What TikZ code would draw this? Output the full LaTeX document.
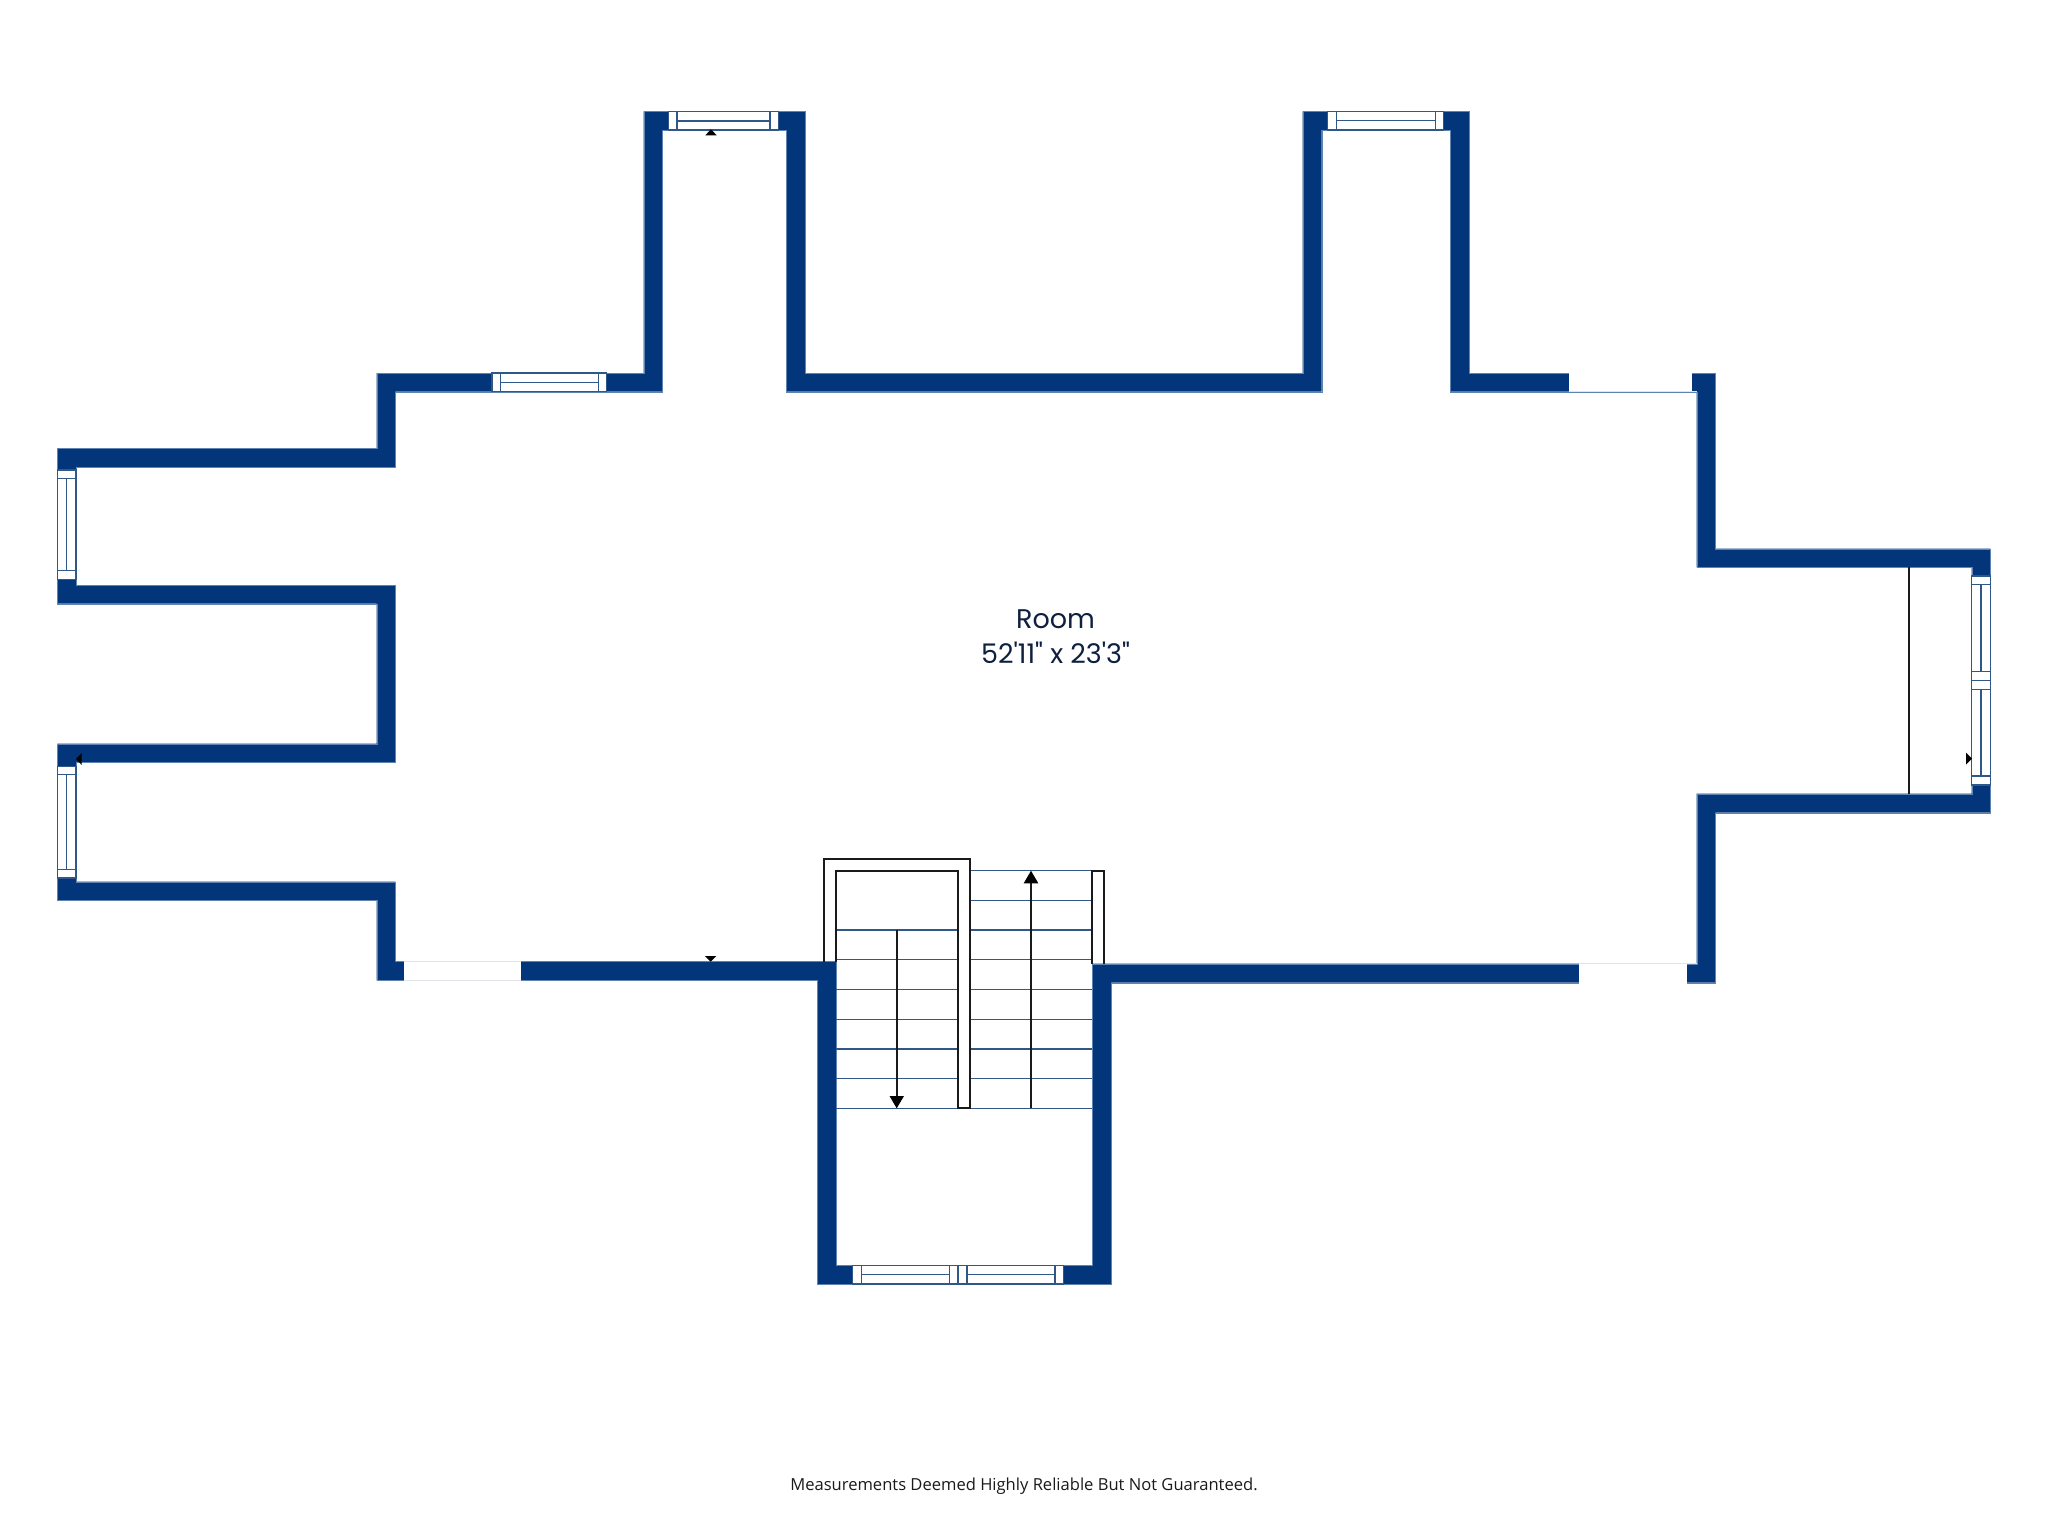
\documentclass[tikz,border=0pt]{standalone}
\usepackage{fontspec}
\setmainfont{Open Sans}
\newfontfamily\poppinsfont{Poppins}
\definecolor{wallblue}{HTML}{03357A}
\definecolor{wallrim}{HTML}{5F84B4}
\definecolor{winblue}{HTML}{2F5788}
\definecolor{railblack}{HTML}{1A1A1A}
\definecolor{gapgrey}{HTML}{E2E4EA}
\definecolor{roomink}{HTML}{0E2040}
\definecolor{footink}{HTML}{1A1A1A}
\tikzset{
  wallfill/.style={fill=wallblue,draw=wallrim,line width=0.4pt,even odd rule},
  winbox/.style={fill=white,draw=winblue,line width=1.4pt},
  winline/.style={draw=winblue,line width=1.4pt},
  tread/.style={draw=winblue,line width=1.2pt},
  rail/.style={draw=railblack,line width=1.7pt,line join=miter},
  gapbox/.style={fill=white,draw=none},
  gapline/.style={draw=gapgrey,line width=1.2pt},
  headfill/.style={fill=black,draw=none},
  roomlabel/.style={anchor=base,text=roomink,font=\poppinsfont\fontsize{27}{31}\selectfont,inner sep=0pt},
  footlabel/.style={anchor=base,text=footink,font=\fontsize{16.56}{20}\selectfont,inner sep=0pt}
}
\begin{document}
\begin{tikzpicture}[x=1pt,y=-1pt]
\useasboundingbox (0,0) rectangle (2048,1536);
\fill[white] (0,0) rectangle (2048,1536);
% walls: outer outline and inner outline
\path[wallfill]
 (376.7,373)--(643.7,373)--(643.7,111.3)--(805,111.3)--(805,373)--(1302.7,373)--(1302.7,111.3)--(1469.3,111.3)--(1469.3,373)--(1715.3,373)--(1715.3,548.7)--(1990.3,548.7)--(1990.3,812.7)--(1715.3,812.7)--(1715.3,982.7)--(1111,982.7)--(1111,1284)--(817,1284)--(817,980.3)--(376.7,980.3)--(376.7,900.3)--(57.3,900.3)--(57.3,743.7)--(376.7,743.7)--(376.7,603.7)--(57.3,603.7)--(57.3,448.3)--(376.7,448.3)--cycle
 (395.3,391.7)--(662.3,391.7)--(662.3,130)--(786.3,130)--(786.3,391.7)--(1321.7,391.7)--(1321.7,130)--(1450.3,130)--(1450.3,391.7)--(1696.7,391.7)--(1696.7,567.3)--(1971.7,567.3)--(1971.7,793.7)--(1696.7,793.7)--(1696.7,963.7)--(1092,963.7)--(1092,1265.3)--(836,1265.3)--(836,961.3)--(395.3,961.3)--(395.3,881.7)--(76,881.7)--(76,762.3)--(395.3,762.3)--(395.3,585)--(76,585)--(76,467)--(395.3,467)--cycle;
% openings
\fill[gapbox] (1568.7,372) rectangle (1691.7,391.7);
\draw[gapline] (1568.7,391.7)--(1696.7,391.7);
\fill[gapbox] (404.3,960.7) rectangle (520.7,981);
\draw[gapline] (404.3,961.3)--(520.7,961.3) (404.3,980.3)--(520.7,980.3);
\fill[gapbox] (1579,963.7) rectangle (1686.7,983.5);
\draw[gapline] (1579,963.7)--(1696.7,963.7);
% top-wall window
\draw[winbox] (492,373) rectangle (606.7,391.7);
\draw[winline] (500.7,373)--(500.7,391.7) (598.7,373)--(598.7,391.7) (500.7,382.3)--(598.7,382.3);
% bay windows, top
\draw[winbox] (668.3,111.3) rectangle (778.3,130);
\draw[winline] (677,111.3)--(677,130) (770,111.3)--(770,130) (677,121)--(770,121);
\draw[winbox] (1327.7,111.3) rectangle (1443.7,130);
\draw[winline] (1336.3,111.3)--(1336.3,130) (1435.3,111.3)--(1435.3,130) (1336.3,120.7)--(1435.3,120.7);
% left windows
\draw[winbox] (57.3,470) rectangle (76,579.3);
\draw[winline] (57.3,478.3)--(76,478.3) (57.3,570.7)--(76,570.7) (66.7,478.3)--(66.7,570.7);
\draw[winbox] (57.3,766.3) rectangle (76,878);
\draw[winline] (57.3,774.3)--(76,774.3) (57.3,869.7)--(76,869.7) (66.7,774.3)--(66.7,869.7);
% right window
\draw[winbox] (1971.7,576) rectangle (1990.3,785);
\draw[winline] (1971.7,584.3)--(1990.3,584.3) (1971.7,671.7)--(1990.3,671.7) (1971.7,680.3)--(1990.3,680.3) (1971.7,689.3)--(1990.3,689.3) (1971.7,776)--(1990.3,776) (1981,584.3)--(1981,671.7) (1981,689.3)--(1981,776);
% stair-well window
\draw[winbox] (852.7,1265.3) rectangle (1063.3,1284);
\draw[winline] (861.3,1265.3)--(861.3,1284) (949.3,1265.3)--(949.3,1284) (958,1265.3)--(958,1284) (967,1265.3)--(967,1284) (1055,1265.3)--(1055,1284) (861.3,1274.7)--(949.3,1274.7) (967,1274.7)--(1055,1274.7);
% right bay divider
\draw[rail] (1909.3,567.3)--(1909.3,793.7);
% treads
\draw[tread] (836,930)--(958,930) (836,959.7)--(958,959.7) (836,989.7)--(958,989.7) (836,1019.3)--(958,1019.3) (836,1049)--(958,1049) (836,1078.7)--(958,1078.7);
\draw[tread] (970,870.7)--(1092,870.7) (970,900.3)--(1092,900.3) (970,930)--(1092,930) (970,959.7)--(1092,959.7) (970,989.7)--(1092,989.7) (970,1019.3)--(1092,1019.3) (970,1049)--(1092,1049) (970,1078.7)--(1092,1078.7);
\draw[tread] (836,1108.3)--(1092,1108.3);
% rails
\draw[rail] (823.7,962)--(823.7,858.7)--(970,858.7)--(970,1108.3)--(958,1108.3)--(958,870.7)--(835.7,870.7)--(835.7,962);
\draw[rail] (1092.3,963.7)--(1092.3,870.7)--(1104.3,870.7)--(1104.3,963.7);
% stair arrows
\draw[rail] (896.7,930)--(896.7,1098);
\fill[headfill] (889.5,1096)--(904,1096)--(896.7,1108.3)--cycle;
\draw[rail] (1031,1108.3)--(1031,881);
\fill[headfill] (1023.7,883.3)--(1038.3,883.3)--(1031,870.7)--cycle;
% small markers
\fill[headfill] (705.3,135.3)--(716.7,135.3)--(711,129.3)--cycle;
\fill[headfill] (705,956)--(716.4,956)--(710.7,961.7)--cycle;
\fill[headfill] (81.7,753)--(81.7,765)--(76,759)--cycle;
\fill[headfill] (1966,752.7)--(1966,764.7)--(1972,758.7)--cycle;
% labels
\node[roomlabel] (roomname) at (1055.5,628) {Room};
\node[roomlabel] (roomsize) at (1055.5,663.3) {52'11" x 23'3"};
\node[footlabel] (footer) at (1024,1490) {Measurements Deemed Highly Reliable But Not Guaranteed.};
\end{tikzpicture}
\end{document}
